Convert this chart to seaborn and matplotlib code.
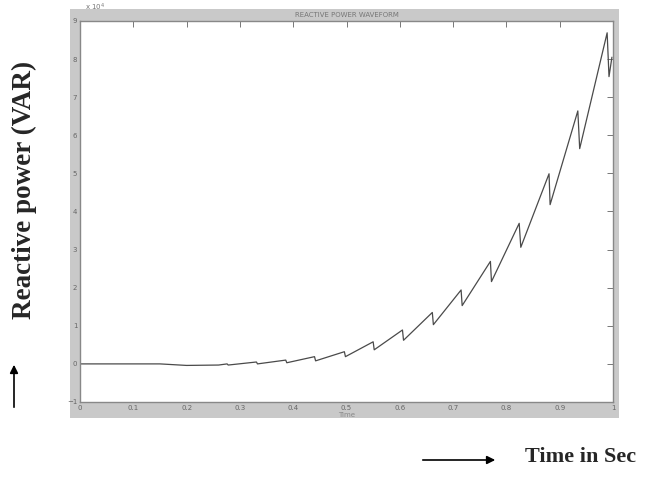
import numpy as np
import pandas as pd
import matplotlib
matplotlib.use("Agg")
import matplotlib.pyplot as plt
import seaborn as sns
from matplotlib.patches import FancyArrowPatch

# Data (time in s, reactive power in units of 1e4 VAR)
time_s = [0.0, 0.15, 0.20, 0.26, 0.276, 0.278, 0.331, 0.333, 0.386, 0.388,
          0.440, 0.442, 0.496, 0.498, 0.550, 0.552, 0.605, 0.607,
          0.661, 0.663, 0.715, 0.717, 0.770, 0.772, 0.824, 0.827,
          0.880, 0.882, 0.934, 0.9375, 0.989, 0.9925, 0.998]
power = [0.0, 0.0, -0.04, -0.03, 0.0, -0.03, 0.05, 0.0, 0.10, 0.03,
         0.19, 0.08, 0.32, 0.19, 0.58, 0.37, 0.89, 0.62,
         1.35, 1.03, 1.94, 1.53, 2.69, 2.16, 3.69, 3.06,
         4.99, 4.18, 6.64, 5.65, 8.69, 7.54, 8.05]
x_ticks = [0, 0.1, 0.2, 0.3, 0.4, 0.5, 0.6, 0.7, 0.8, 0.9, 1]
x_tick_labels = ["0", "0.1", "0.2", "0.3", "0.4", "0.5", "0.6", "0.7", "0.8", "0.9", "1"]
y_ticks = [-1, 0, 1, 2, 3, 4, 5, 6, 7, 8, 9]

df = pd.DataFrame({"t": time_s, "q": power})

sns.set_style("white")
fig = plt.figure(figsize=(6.5, 4.79), dpi=100)
fig.patch.set_facecolor("white")

# MATLAB-style gray figure background
bg = fig.add_axes([70 / 650, 1 - 418 / 479, (619 - 70) / 650, (418 - 9) / 479])
bg.set_facecolor("#c9c9c9")
bg.set_xticks([])
bg.set_yticks([])
for sp in bg.spines.values():
    sp.set_visible(False)
bg.set_zorder(0)

ax = fig.add_axes([80 / 650, 1 - 402 / 479, (613 - 80) / 650, (402 - 21) / 479])
ax.set_zorder(2)
ax.set_facecolor("white")
sns.lineplot(data=df, x="t", y="q", ax=ax, sort=False, estimator=None,
             color="#4a4a4a", linewidth=0.9)

ax.set_xlim(0, 1)
ax.set_ylim(-1, 9)
ax.set_xticks(x_ticks)
ax.set_xticklabels(x_tick_labels)
ax.set_yticks(y_ticks)
ax.tick_params(direction="in", length=4, width=0.7, colors="#777777",
               labelsize=5, top=True, right=True, pad=2)
for lab in ax.get_xticklabels() + ax.get_yticklabels():
    lab.set_color("#666666")
for sp in ax.spines.values():
    sp.set_color("#888888")
    sp.set_linewidth(1.0)
ax.set_xlabel("Time", fontsize=5, color="#888888", labelpad=1)
ax.set_ylabel("")
ax.set_title("REACTIVE POWER WAVEFORM", fontsize=5, color="#777777", pad=3)
fig.text(85 / 650, 1 - 7 / 479, "x 10$^4$", fontsize=5, color="#777777",
         ha="left", va="center", zorder=5)

# Annotations outside the plot
serif = ["Liberation Serif", "DejaVu Serif"]
fig.text(24 / 650, 1 - 190 / 479, "Reactive power (VAR)", rotation=90,
         fontsize=19.5, fontweight="bold", family=serif, ha="center", va="center")
fig.text(525 / 650, 1 - 457 / 479, "Time in Sec", fontsize=16,
         fontweight="bold", family=serif, ha="left", va="center")
fig.patches.append(FancyArrowPatch((14 / 650, 1 - 410 / 479), (14 / 650, 1 - 362 / 479),
                                   transform=fig.transFigure, arrowstyle="-|>",
                                   mutation_scale=12, color="black", linewidth=1.2))
fig.patches.append(FancyArrowPatch((420 / 650, 1 - 460 / 479), (498 / 650, 1 - 460 / 479),
                                   transform=fig.transFigure, arrowstyle="-|>",
                                   mutation_scale=12, color="black", linewidth=1.2))

fig.savefig("out.png", dpi=100)
